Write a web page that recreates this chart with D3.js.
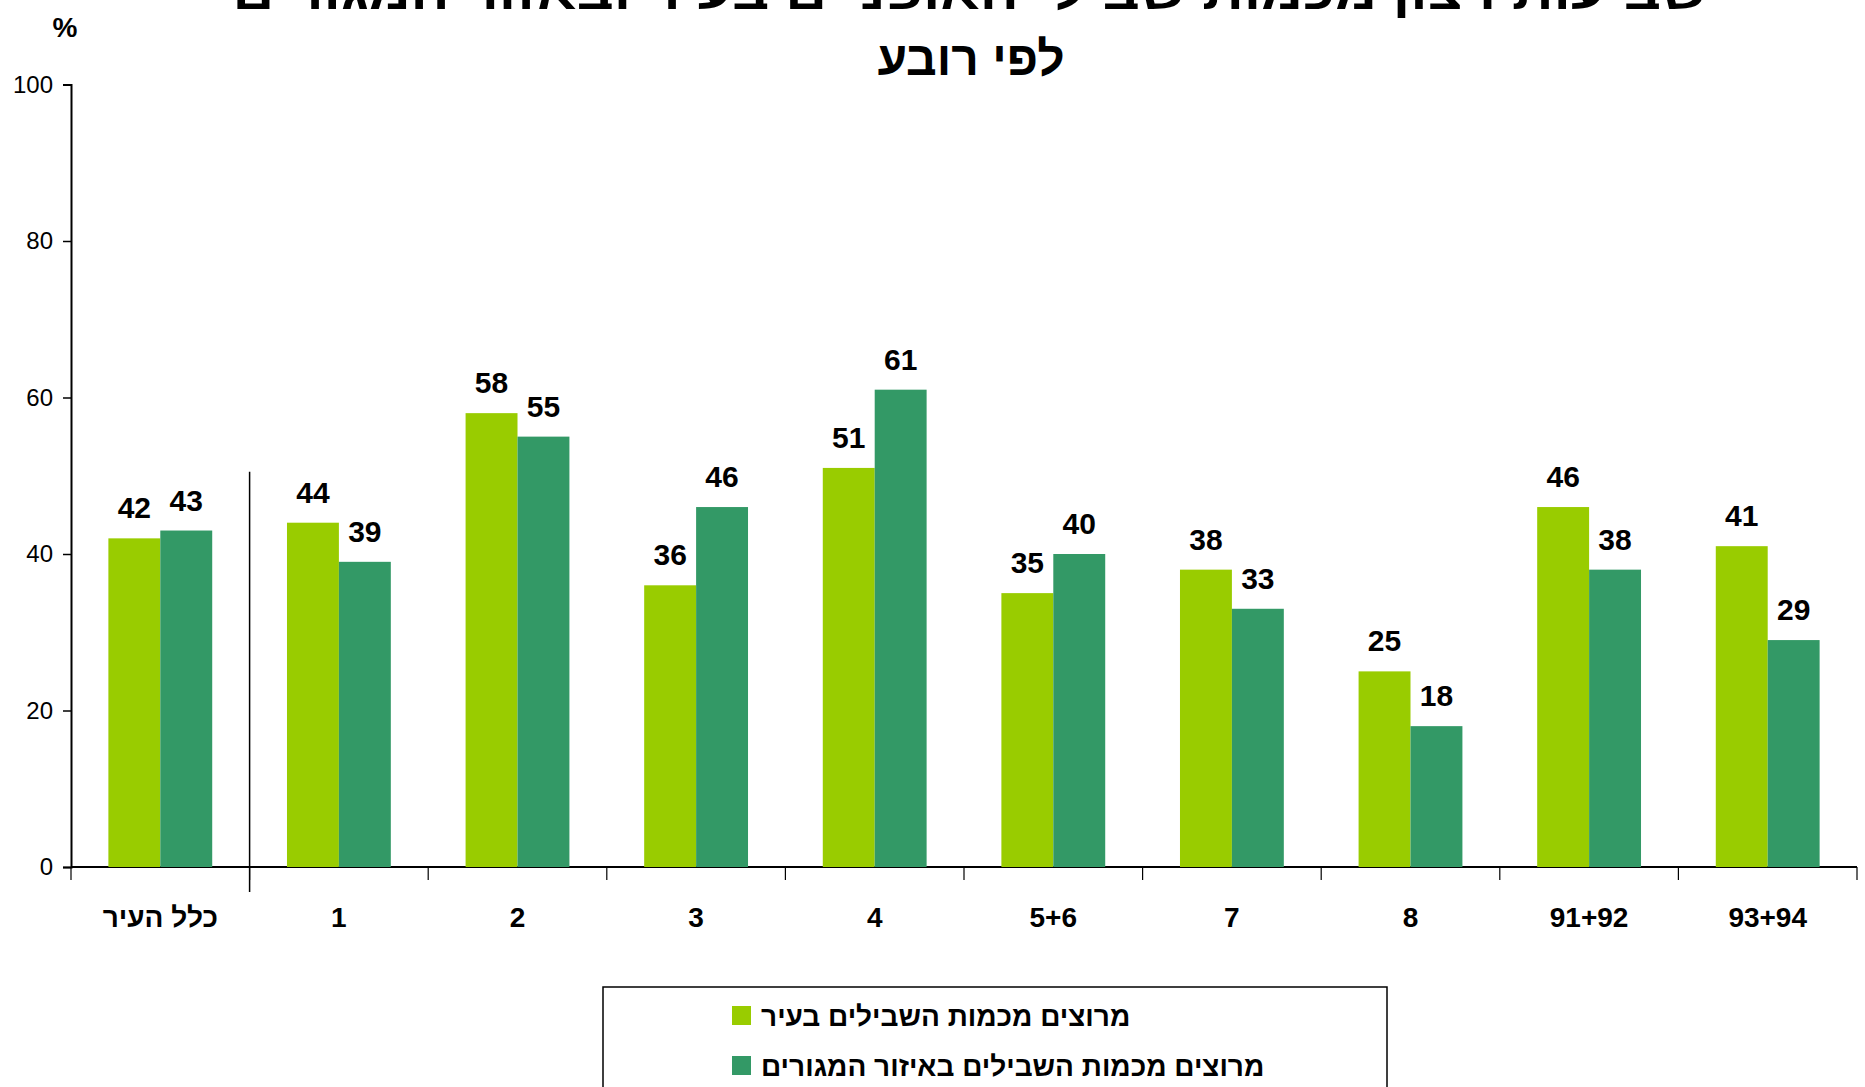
<!DOCTYPE html>
<html>
<head>
<meta charset="UTF-8">
<style>
  body { margin: 0; background: #fff; }
  svg { display: block; font-family: "Liberation Sans", Arial, sans-serif; }
</style>
</head>
<body>
<svg></svg>
<script src="https://d3js.org/d3.v7.min.js"></script>
<script>
const categories = ["כלל העיר", "1", "2", "3", "4", "5+6", "7", "8", "91+92", "93+94"];
const cityValues = [42, 44, 58, 36, 51, 35, 38, 25, 46, 41];
const areaValues = [43, 39, 55, 46, 61, 40, 33, 18, 38, 29];
const seriesNames = ["מרוצים מכמות השבילים בעיר", "מרוצים מכמות השבילים באיזור המגורים"];
const seriesColors = ["#99cc00", "#339966"];
const yTicks = [0, 20, 40, 60, 80, 100];
const titleLines = ["שביעות רצון מכמות שבילי האופניים בעיר ובאזור המגורים", "לפי רובע"];

let width = 1865, height = 1087;
let svg = d3.select("svg").attr("width", width).attr("height", height);

let margin = { left: 71, right: 8, top: 84.5, bottom: 220 };

// scales
let x0 = d3.scaleBand().domain(categories).range([margin.left, width - margin.right]).padding(0);
let x1 = d3.scaleBand().domain([0, 1]).range([0, x0.bandwidth()]).paddingInner(0).paddingOuter(0.72);
let y = d3.scaleLinear().domain([0, 100]).range([height - margin.bottom, margin.top]);

// title (first line is cut off at the top, as in the picture)
svg.append("text")
    .attr("x", 970).attr("y", 9)
    .attr("text-anchor", "middle")
    .style("font-size", "46px").style("font-weight", "bold")
    .attr("textLength", 1475).attr("lengthAdjust", "spacingAndGlyphs")
    .text(titleLines[0]);
svg.append("text")
    .attr("x", 971).attr("y", 75)
    .attr("text-anchor", "middle")
    .style("font-size", "48px").style("font-weight", "bold")
    .text(titleLines[1]);

// y axis
let yAxis = svg.append("g")
    .attr("transform", "translate(" + margin.left + ",0)")
    .call(d3.axisLeft(y).tickValues(yTicks).tickSize(8).tickPadding(10));
yAxis.select(".domain").attr("stroke", "#000").attr("stroke-width", 2);
yAxis.selectAll(".tick line").attr("stroke-width", 1.5);
yAxis.selectAll("text").style("font-size", "24px").style("font-family", "\"Liberation Sans\", Arial, sans-serif").attr("fill", "#000");

svg.append("text")
    .attr("x", 65).attr("y", 37)
    .attr("text-anchor", "middle")
    .style("font-size", "28px").style("font-weight", "bold")
    .text("%");

// x axis
let xAxisG = svg.append("g").attr("transform", "translate(0," + y(0) + ")");
xAxisG.append("line")
    .attr("x1", margin.left).attr("x2", width - margin.right)
    .attr("stroke", "#000").attr("stroke-width", 2);
let bounds = categories.map(c => x0(c)).concat([x0(categories[categories.length - 1]) + x0.bandwidth()]);
xAxisG.selectAll(".tk").data(bounds).enter().append("line")
    .attr("x1", d => d).attr("x2", d => d)
    .attr("y1", 0).attr("y2", 13)
    .attr("stroke", "#000").attr("stroke-width", 1.2);
xAxisG.selectAll(".cat").data(categories).enter().append("text")
    .attr("x", d => x0(d) + x0.bandwidth() / 2)
    .attr("y", 60)
    .attr("text-anchor", "middle")
    .style("font-size", "28px").style("font-weight", "bold")
    .text(d => d);

// separator between the whole city and the quarters
svg.append("line")
    .attr("x1", x0(categories[1])).attr("x2", x0(categories[1]))
    .attr("y1", y(50.5)).attr("y2", y(0) + 25)
    .attr("stroke", "#000").attr("stroke-width", 1.5);

// bars
let rows = categories.map((c, i) => ({ cat: c, vals: [cityValues[i], areaValues[i]] }));
let groups = svg.append("g").selectAll("g").data(rows).enter().append("g")
    .attr("transform", d => "translate(" + x0(d.cat) + ",0)");

groups.selectAll("rect").data(d => d.vals.map((v, k) => ({ k: k, v: v }))).enter().append("rect")
    .attr("x", d => x1(d.k))
    .attr("width", x1.bandwidth())
    .attr("y", d => y(d.v))
    .attr("height", d => y(0) - y(d.v))
    .attr("fill", d => seriesColors[d.k]);

groups.selectAll("text").data(d => d.vals.map((v, k) => ({ k: k, v: v }))).enter().append("text")
    .attr("x", d => x1(d.k) + x1.bandwidth() / 2)
    .attr("y", d => y(d.v) - 20)
    .attr("text-anchor", "middle")
    .style("font-size", "30px").style("font-weight", "bold")
    .text(d => d.v);

// legend
let legend = svg.append("g");
legend.append("rect")
    .attr("x", 603).attr("y", 987).attr("width", 784).attr("height", 140)
    .attr("fill", "none").attr("stroke", "#000").attr("stroke-width", 1.5);
seriesNames.forEach((name, i) => {
    legend.append("rect")
        .attr("x", 732).attr("y", 1006 + i * 50).attr("width", 19).attr("height", 19)
        .attr("fill", seriesColors[i]);
    legend.append("text")
        .attr("x", 761).attr("y", 1026 + i * 50)
        .style("font-size", "28px").style("font-weight", "bold")
        .text(name);
});
</script>
</body>
</html>
